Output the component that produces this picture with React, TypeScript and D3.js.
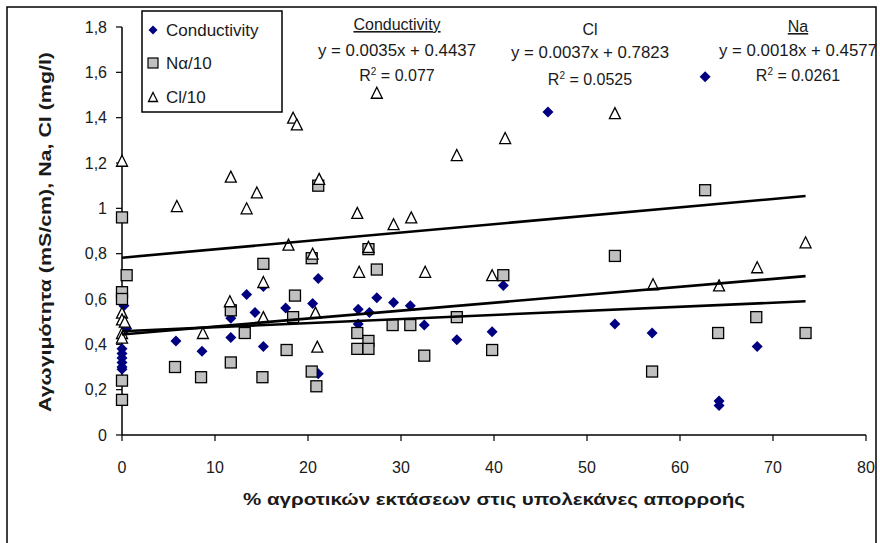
import React, { useEffect } from 'react';
import * as d3 from 'd3';

// άξονες
const xTicks = [0, 10, 20, 30, 40, 50, 60, 70, 80];
const yTicks = [0, 0.2, 0.4, 0.6, 0.8, 1.0, 1.2, 1.4, 1.6, 1.8];

// Conductivity (mS/cm)
const condX = [0, 0, 0, 0, 0, 0, 0.2, 0.5, 5.8, 8.6, 11.7, 11.7, 13.4, 14.3, 15.2, 15.2, 17.6, 20.5, 21.1, 21.1, 25.4, 25.4, 26.6, 27.4, 29.2, 31, 32.5, 36, 39.8, 41, 45.8, 53, 57, 62.7, 64.2, 64.2, 68.3];
const condY = [0.38, 0.36, 0.34, 0.32, 0.3, 0.29, 0.57, 0.47, 0.415, 0.37, 0.43, 0.515, 0.62, 0.54, 0.39, 0.655, 0.56, 0.58, 0.69, 0.27, 0.555, 0.49, 0.54, 0.605, 0.585, 0.57, 0.485, 0.42, 0.455, 0.66, 1.425, 0.49, 0.45, 1.58, 0.13, 0.15, 0.39];

// Να/10
const naX = [0, 0.5, 0, 0, 0, 0, 5.7, 8.5, 11.7, 11.7, 13.2, 15.1, 15.2, 17.7, 18.4, 18.6, 20.4, 20.4, 20.9, 21.1, 25.3, 25.3, 26.5, 26.5, 26.5, 27.4, 29.1, 31, 32.5, 36, 39.8, 41, 53, 57, 62.7, 64.1, 68.2, 73.5];
const naY = [0.96, 0.705, 0.63, 0.6, 0.24, 0.155, 0.3, 0.255, 0.32, 0.55, 0.45, 0.255, 0.755, 0.375, 0.52, 0.615, 0.78, 0.28, 0.215, 1.1, 0.45, 0.38, 0.415, 0.38, 0.82, 0.73, 0.485, 0.485, 0.35, 0.52, 0.375, 0.705, 0.79, 0.28, 1.08, 0.45, 0.52, 0.45];

// Cl/10
const clX = [0, 0, 0, 0.3, 0, 0, 5.9, 8.7, 11.7, 11.6, 13.4, 14.5, 15.2, 15.2, 17.9, 18.4, 18.8, 20.5, 20.8, 21, 21.2, 25.3, 25.5, 26.5, 27.4, 29.2, 31.1, 32.6, 36, 39.8, 41.2, 53, 57.1, 64.2, 68.3, 73.5];
const clY = [1.21, 0.54, 0.51, 0.5, 0.45, 0.43, 1.01, 0.45, 1.14, 0.59, 1.0, 1.07, 0.675, 0.52, 0.84, 1.4, 1.37, 0.8, 0.54, 0.39, 1.13, 0.98, 0.72, 0.83, 1.51, 0.93, 0.96, 0.72, 1.235, 0.705, 1.31, 1.42, 0.665, 0.66, 0.74, 0.85];

// γραμμές τάσης
const trendNames = ['Conductivity', 'Cl', 'Na'];
const trendSlope = [0.0035, 0.0037, 0.0018];
const trendIntercept = [0.4437, 0.7823, 0.4577];
const trendR2 = ['0.077', '0.0525', '0.0261'];

const W = 880;
const H = 543;
const FONT = '"Liberation Sans Narrow", "Liberation Sans", Arial, sans-serif';
const TXT = '#1a1a1a';

const fmtY = (v: number) => String(+v.toFixed(1)).replace('.', ',');

export default function App() {
  useEffect(() => {
    document.body.style.margin = '0';
  }, []);

  const x = d3.scaleLinear().domain([0, 80]).range([122, 866]);
  const y = d3.scaleLinear().domain([0, 1.8]).range([435, 27]);

  const xMax = d3.max([...condX, ...naX, ...clX]) as number;

  const line = d3.line<number>()
    .x(d => x(d[0]))
    .y(d => y(d[1]));

  const diamond = (cx: number, cy: number, r = 5.5) =>
    `M${cx},${cy - r}L${cx + r},${cy}L${cx},${cy + r}L${cx - r},${cy}Z`;
  const tri = (cx: number, cy: number, r = 5.5) =>
    `M${cx},${cy - r}L${cx + r},${cy + r}L${cx - r},${cy + r}Z`;

  // θέσεις κειμένων εξισώσεων
  const labelPos = [
    { cx: 397, y0: 30, y1: 56, y2: 81, underline: true },
    { cx: 590, y0: 35, y1: 58, y2: 85, underline: false },
    { cx: 798, y0: 32, y1: 56, y2: 81, underline: true },
  ];

  return (
    <svg width={W} height={H} style={{ display: 'block', background: '#fff' }} fontFamily={FONT}>
      <rect x={7} y={7} width={869} height={560} fill="#fff" stroke="#000" strokeWidth={1.5} />

      {/* y axis */}
      <line x1={122} x2={122} y1={y(1.8)} y2={y(0)} stroke="#000" strokeWidth={1.5} />
      {yTicks.map(t => (
        <g key={'y' + t}>
          <line x1={116} x2={122} y1={y(t)} y2={y(t)} stroke="#000" strokeWidth={1.2} />
          <text x={107} y={y(t)} dy="0.35em" textAnchor="end" fontSize={16} fill={TXT}>{fmtY(t)}</text>
        </g>
      ))}

      {/* x axis */}
      <line x1={x(0)} x2={x(80)} y1={435} y2={435} stroke="#000" strokeWidth={1.5} />
      {xTicks.map(t => (
        <g key={'x' + t}>
          <line x1={x(t)} x2={x(t)} y1={435} y2={441} stroke="#000" strokeWidth={1.2} />
          <text x={x(t)} y={473} textAnchor="middle" fontSize={16} fill={TXT}>{t}</text>
        </g>
      ))}

      {/* axis titles */}
      <text
        transform="translate(51,232) rotate(-90)"
        textAnchor="middle"
        fontSize={16}
        fontWeight="bold"
        fill={TXT}
        textLength={360}
        lengthAdjust="spacingAndGlyphs"
      >
        Αγωγιμότητα (mS/cm), Na, Cl (mg/l)
      </text>
      <text x={494} y={505} textAnchor="middle" fontSize={16} fontWeight="bold" fill={TXT} textLength={502} lengthAdjust="spacingAndGlyphs">
        % αγροτικών εκτάσεων στις υπολεκάνες απορροής
      </text>

      {/* markers */}
      {condX.map((v, i) => (
        <path key={'c' + i} d={diamond(x(v), y(condY[i]))} fill="#000080" />
      ))}
      {naX.map((v, i) => (
        <rect key={'n' + i} x={x(v) - 5.5} y={y(naY[i]) - 5.5} width={11} height={11} fill="#c0c0c0" stroke="#000" strokeWidth={1.3} />
      ))}
      {clX.map((v, i) => (
        <path key={'l' + i} d={tri(x(v), y(clY[i]))} fill="#fff" stroke="#000" strokeWidth={1.3} />
      ))}

      {/* trend lines */}
      {trendSlope.map((a, i) => (
        <path
          key={'t' + i}
          d={line([[0, trendIntercept[i]], [xMax, trendIntercept[i] + a * xMax]] as any) || ''}
          fill="none"
          stroke="#000"
          strokeWidth={2.6}
        />
      ))}

      {/* equations */}
      {labelPos.map((p, i) => (
        <g key={'e' + i} fontSize={16} fill={TXT} textAnchor="middle">
          <text x={p.cx} y={p.y0} textDecoration={p.underline ? 'underline' : undefined}>{trendNames[i]}</text>
          <text x={p.cx} y={p.y1} textLength={158} lengthAdjust="spacingAndGlyphs">
            {`y = ${trendSlope[i]}x + ${trendIntercept[i]}`}
          </text>
          <text x={p.cx} y={p.y2}>
            R<tspan dy={-6} fontSize={10}>2</tspan><tspan dy={6}>{` = ${trendR2[i]}`}</tspan>
          </text>
        </g>
      ))}

      {/* legend */}
      <rect x={142} y={11} width={140} height={101} fill="#fff" stroke="#000" strokeWidth={1.5} />
      <path d={diamond(153, 30, 4.5)} fill="#000080" />
      <text x={166} y={30} dy="0.35em" fontSize={17} fill={TXT}>Conductivity</text>
      <rect x={148} y={58} width={10} height={10} fill="#c0c0c0" stroke="#000" strokeWidth={1.2} />
      <text x={166} y={63} dy="0.35em" fontSize={17} fill={TXT}>Να/10</text>
      <path d={tri(153, 97, 4.5)} fill="#fff" stroke="#000" strokeWidth={1.3} />
      <text x={166} y={97} dy="0.35em" fontSize={17} fill={TXT}>Cl/10</text>
    </svg>
  );
}
